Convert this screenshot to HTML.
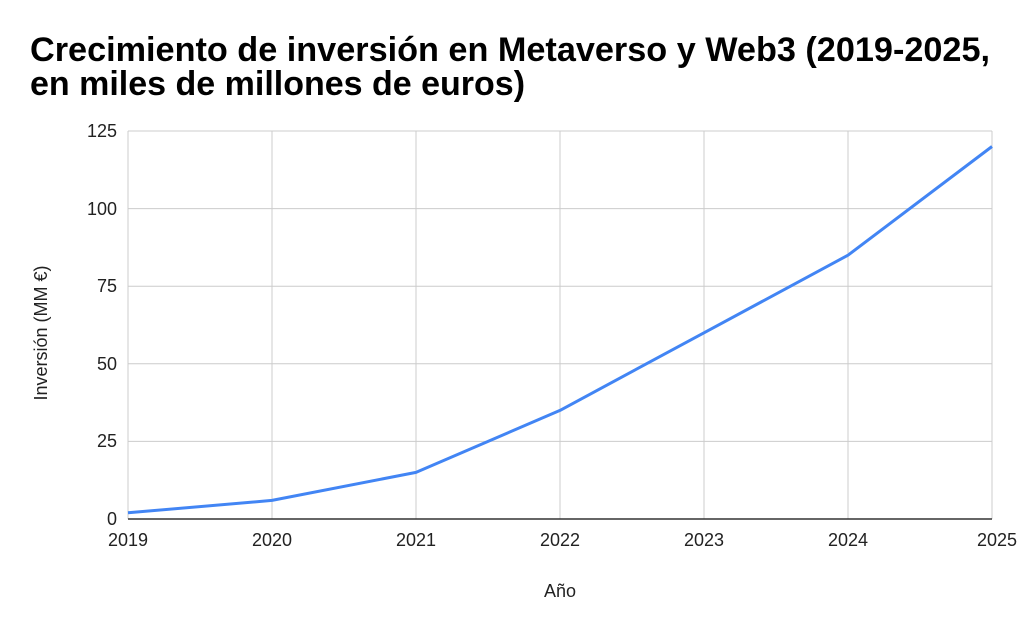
<!DOCTYPE html>
<html><head><meta charset="utf-8"><style>
html,body{margin:0;padding:0;background:#fff;}
svg{display:block;font-family:"Liberation Sans",Arial,sans-serif;}
</style></head><body>
<svg width="1024" height="633" viewBox="0 0 1024 633" xmlns="http://www.w3.org/2000/svg">
<rect width="1024" height="633" fill="#fff"/>
<text x="30" y="61" font-size="34" font-weight="bold" fill="#000" textLength="960" lengthAdjust="spacingAndGlyphs">Crecimiento de inversión en Metaverso y Web3 (2019-2025,</text>
<text x="30" y="95" font-size="34" font-weight="bold" fill="#000">en miles de millones de euros)</text>
<g stroke="#cccccc" stroke-width="1">
<line x1="128" y1="131" x2="992" y2="131"/>
<line x1="128" y1="208.6" x2="992" y2="208.6"/>
<line x1="128" y1="286.2" x2="992" y2="286.2"/>
<line x1="128" y1="363.8" x2="992" y2="363.8"/>
<line x1="128" y1="441.4" x2="992" y2="441.4"/>
<line x1="128" y1="131" x2="128" y2="519"/>
<line x1="272" y1="131" x2="272" y2="519"/>
<line x1="416" y1="131" x2="416" y2="519"/>
<line x1="560" y1="131" x2="560" y2="519"/>
<line x1="704" y1="131" x2="704" y2="519"/>
<line x1="848" y1="131" x2="848" y2="519"/>
<line x1="992" y1="131" x2="992" y2="519"/>
</g>
<line x1="128" y1="519" x2="992" y2="519" stroke="#333" stroke-width="1.5"/>
<g font-size="18" fill="#222" text-anchor="end">
<text x="117" y="137">125</text>
<text x="117" y="215">100</text>
<text x="117" y="292">75</text>
<text x="117" y="370">50</text>
<text x="117" y="447">25</text>
<text x="117" y="525">0</text>
</g>
<g font-size="18" fill="#222" text-anchor="middle">
<text x="128" y="546">2019</text>
<text x="272" y="546">2020</text>
<text x="416" y="546">2021</text>
<text x="560" y="546">2022</text>
<text x="704" y="546">2023</text>
<text x="848" y="546">2024</text>
<text x="992" y="546" text-anchor="end" dx="25">2025</text>
</g>
<text x="560" y="597" font-size="18" fill="#222" text-anchor="middle">Año</text>
<text transform="translate(47,333) rotate(-90)" font-size="18" fill="#222" text-anchor="middle">Inversión (MM €)</text>
<polyline fill="none" stroke="#4285f4" stroke-width="3" stroke-linejoin="round" points="128,512.8 272,500.4 416,472.4 560,410.4 704,332.8 848,255.2 992,146.5"/>
</svg>
</body></html>
